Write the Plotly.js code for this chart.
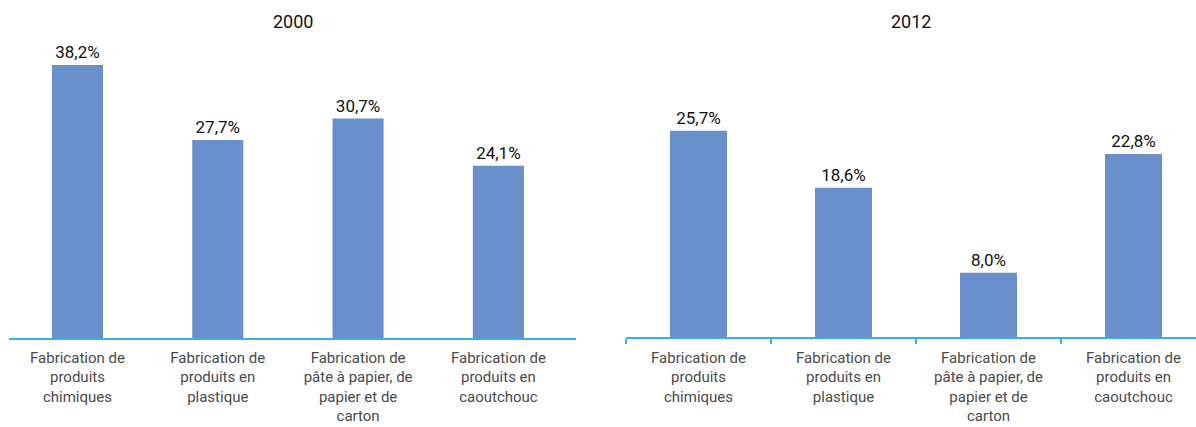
<!DOCTYPE html>
<html>
<head>
<meta charset="utf-8">
<script src="https://cdn.plot.ly/plotly-3.0.1.min.js"></script>
<style>html,body{margin:0;padding:0;background:#fff}#chart{width:1196px;height:427px}</style>
</head>
<body>
<div id="chart"></div>
<script>
const categories = [
  "Fabrication de<br>produits<br>chimiques",
  "Fabrication de<br>produits en<br>plastique",
  "Fabrication de<br>pâte à papier, de<br>papier et de<br>carton",
  "Fabrication de<br>produits en<br>caoutchouc"
];
const values2000 = [38.2, 27.7, 30.7, 24.1];
const values2012 = [25.7, 18.6, 8.0, 22.8];
const panelTitles = ["2000", "2012"];

const FONT = "Roboto, sans-serif";
const BAR = "#6990CB";
const AXIS = "#3BAEE3";
const H = 427;

const traces = [
  {type:'bar', x:categories, y:values2000, xaxis:'x', yaxis:'y', width:0.364,
   marker:{color:BAR}, texttemplate:'%{y:.1f}%', textposition:'outside', cliponaxis:false,
   textfont:{family:FONT, size:17, color:'#111'}, hoverinfo:'none'},
  {type:'bar', x:categories, y:values2012, xaxis:'x2', yaxis:'y2', width:0.393,
   marker:{color:BAR}, texttemplate:'%{y:.1f}%', textposition:'outside', cliponaxis:false,
   textfont:{family:FONT, size:17, color:'#111'}, hoverinfo:'none'}
];

const xCommon = {type:'category', showgrid:false, zeroline:false, showline:true,
  linecolor:AXIS, linewidth:1.5, tickfont:{family:FONT, size:15, color:'#4a4a4a'}, fixedrange:true};

const layout = {
  width:1196, height:427, margin:{l:0, r:0, t:0, b:0},
  paper_bgcolor:'#fff', plot_bgcolor:'rgba(0,0,0,0)',
  separators:', ', showlegend:false,
  xaxis: Object.assign({}, xCommon, {domain:[9/1196, 576/1196], range:[-0.488, 3.553],
    ticks:'', ticklabelstandoff:5, anchor:'y'}),
  yaxis: {domain:[(H-338)/H, (H-42)/H], range:[0, (338-42)/7.147], visible:false, anchor:'x'},
  xaxis2: Object.assign({}, xCommon, {domain:[626/1196, 1], range:[-0.5, 3.431],
    ticks:'outside', tickson:'boundaries', ticklen:5, tickcolor:AXIS, tickwidth:1.5,
    ticklabelstandoff:6, anchor:'y2'}),
  yaxis2: {domain:[(H-337)/H, (H-42)/H], range:[0, (337-42)/8.03], visible:false, anchor:'x2'},
  annotations: [
    {text:panelTitles[0], xref:'paper', yref:'paper', x:292.5/1196, y:(H-22)/H, showarrow:false,
     font:{family:FONT, size:18, color:'#111'}, xanchor:'center', yanchor:'middle'},
    {text:panelTitles[1], xref:'paper', yref:'paper', x:911/1196, y:(H-22)/H, showarrow:false,
     font:{family:FONT, size:18, color:'#111'}, xanchor:'center', yanchor:'middle'}
  ]
};

Plotly.newPlot('chart', traces, layout, {displayModeBar:false, staticPlot:true});
</script>
</body>
</html>
